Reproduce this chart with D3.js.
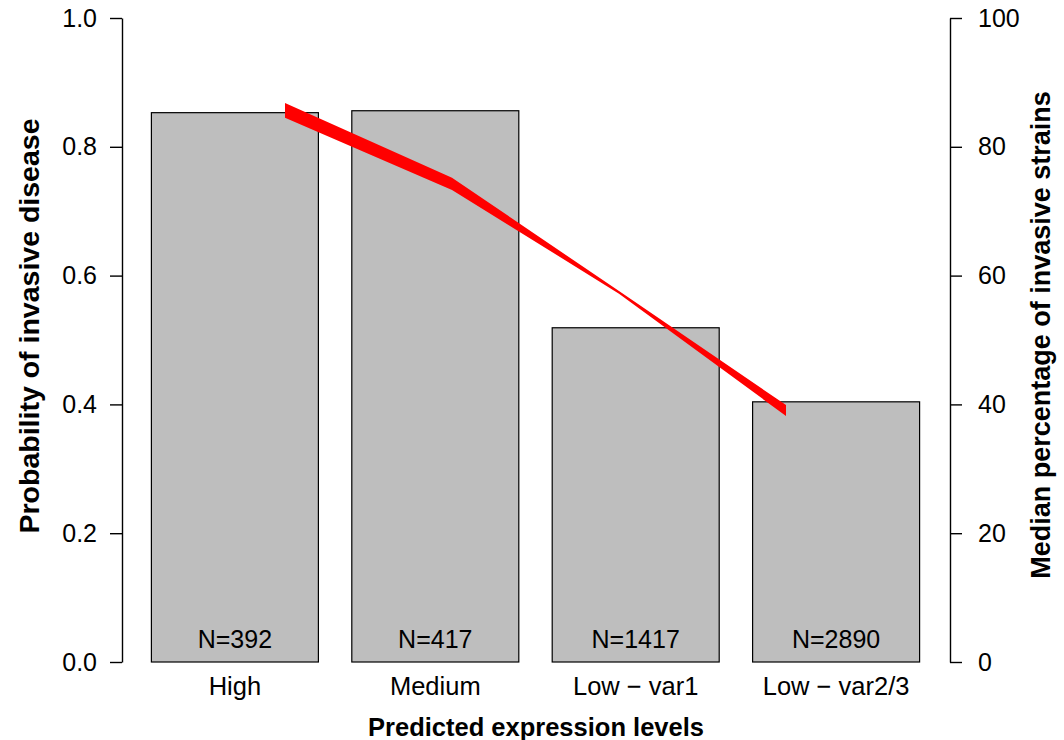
<!DOCTYPE html>
<meta charset="utf-8">
<html>
<head>
<style>
  body { margin: 0; background: #fff; }
  text { font-family: "Liberation Sans", Arial, sans-serif; }
</style>
</head>
<body>
<div id="chart"></div>
<script src="https://d3js.org/d3.v7.min.js"></script>
<script>

  // data
  var categories = ["High", "Medium", "Low \u2212 var1", "Low \u2212 var2/3"];
  var probability = [0.853, 0.856, 0.519, 0.404];
  var counts = ["N=392", "N=417", "N=1417", "N=2890"];
  var ribbonX = [1, 2, 3, 4];
  var ribbonUpper = [86.8, 75.2, 57.6, 39.9];
  var ribbonLower = [84.5, 73.3, 57.2, 38.2];
  var leftTicks = [0, 0.2, 0.4, 0.6, 0.8, 1.0];
  var rightTicks = [0, 20, 40, 60, 80, 100];

  var width = 1064, height = 740;

  var svg = d3.select("#chart")
    .append("svg")
      .attr("width", width)
      .attr("height", height);

  // bar units, R barplot style: width 1, space 0.2
  var x = d3.scaleLinear()
    .domain([0, 4.8])
    .range([118, 919.6]);

  var y = d3.scaleLinear()
    .domain([0, 1])
    .range([662, 18]);

  var y2 = d3.scaleLinear()
    .domain([0, 100])
    .range([662, 18]);

  // bars
  svg.selectAll(".bar")
    .data(probability)
    .enter()
    .append("rect")
      .attr("x", function(d, i) { return x(0.2 + 1.2 * i); })
      .attr("width", x(1) - x(0))
      .attr("y", function(d) { return y(d); })
      .attr("height", function(d) { return y(0) - y(d); })
      .attr("fill", "#bebebe")
      .attr("stroke", "#000")
      .attr("stroke-width", 1.2);

  // N labels
  svg.selectAll(".nlab")
    .data(counts)
    .enter()
    .append("text")
      .attr("x", function(d, i) { return x(0.7 + 1.2 * i); })
      .attr("y", 648)
      .attr("text-anchor", "middle")
      .style("font-size", "25px")
      .text(function(d) { return d; });

  // category labels
  svg.selectAll(".cat")
    .data(categories)
    .enter()
    .append("text")
      .attr("x", function(d, i) { return x(0.7 + 1.2 * i); })
      .attr("y", 695)
      .attr("text-anchor", "middle")
      .style("font-size", "25.5px")
      .text(function(d) { return d; });

  // red ribbon
  var ribbon = ribbonX.map(function(d, i) {
    return { x: d, lo: ribbonLower[i], hi: ribbonUpper[i] };
  });
  svg.append("path")
    .datum(ribbon)
    .attr("fill", "#ff0000")
    .attr("stroke", "none")
    .attr("d", d3.area()
      .x(function(d) { return x(d.x); })
      .y0(function(d) { return y2(d.lo); })
      .y1(function(d) { return y2(d.hi); }));

  // left axis
  var leftAxis = svg.append("g")
    .attr("transform", "translate(122,0)")
    .call(d3.axisLeft(y).tickValues(leftTicks).tickSize(12).tickSizeOuter(0)
      .tickFormat(d3.format(".1f")));

  // right axis
  var rightAxis = svg.append("g")
    .attr("transform", "translate(950,0)")
    .call(d3.axisRight(y2).tickValues(rightTicks).tickSize(12).tickSizeOuter(0)
      .tickFormat(d3.format("d")));

  [leftAxis, rightAxis].forEach(function(a) {
    a.select(".domain").attr("stroke-width", 1.4);
    a.selectAll(".tick line").attr("stroke-width", 1.4);
    a.selectAll(".tick text")
      .style("font-size", "25px")
      .style("font-family", "'Liberation Sans', Arial, sans-serif")
      .attr("fill", "#000");
  });
  leftAxis.selectAll(".tick text").attr("x", -25);
  rightAxis.selectAll(".tick text").attr("x", 28);

  // axis titles
  svg.append("text")
    .attr("x", 536)
    .attr("y", 736)
    .attr("text-anchor", "middle")
    .style("font-size", "25.5px")
    .style("font-weight", "bold")
    .text("Predicted expression levels");

  svg.append("text")
    .attr("transform", "translate(39,326) rotate(-90)")
    .attr("text-anchor", "middle")
    .style("font-size", "28.5px")
    .style("font-weight", "bold")
    .text("Probability of invasive disease");

  svg.append("text")
    .attr("transform", "translate(1050,335) rotate(-90)")
    .attr("text-anchor", "middle")
    .style("font-size", "27px")
    .style("font-weight", "bold")
    .text("Median percentage of invasive strains");

</script>
</body>
</html>
